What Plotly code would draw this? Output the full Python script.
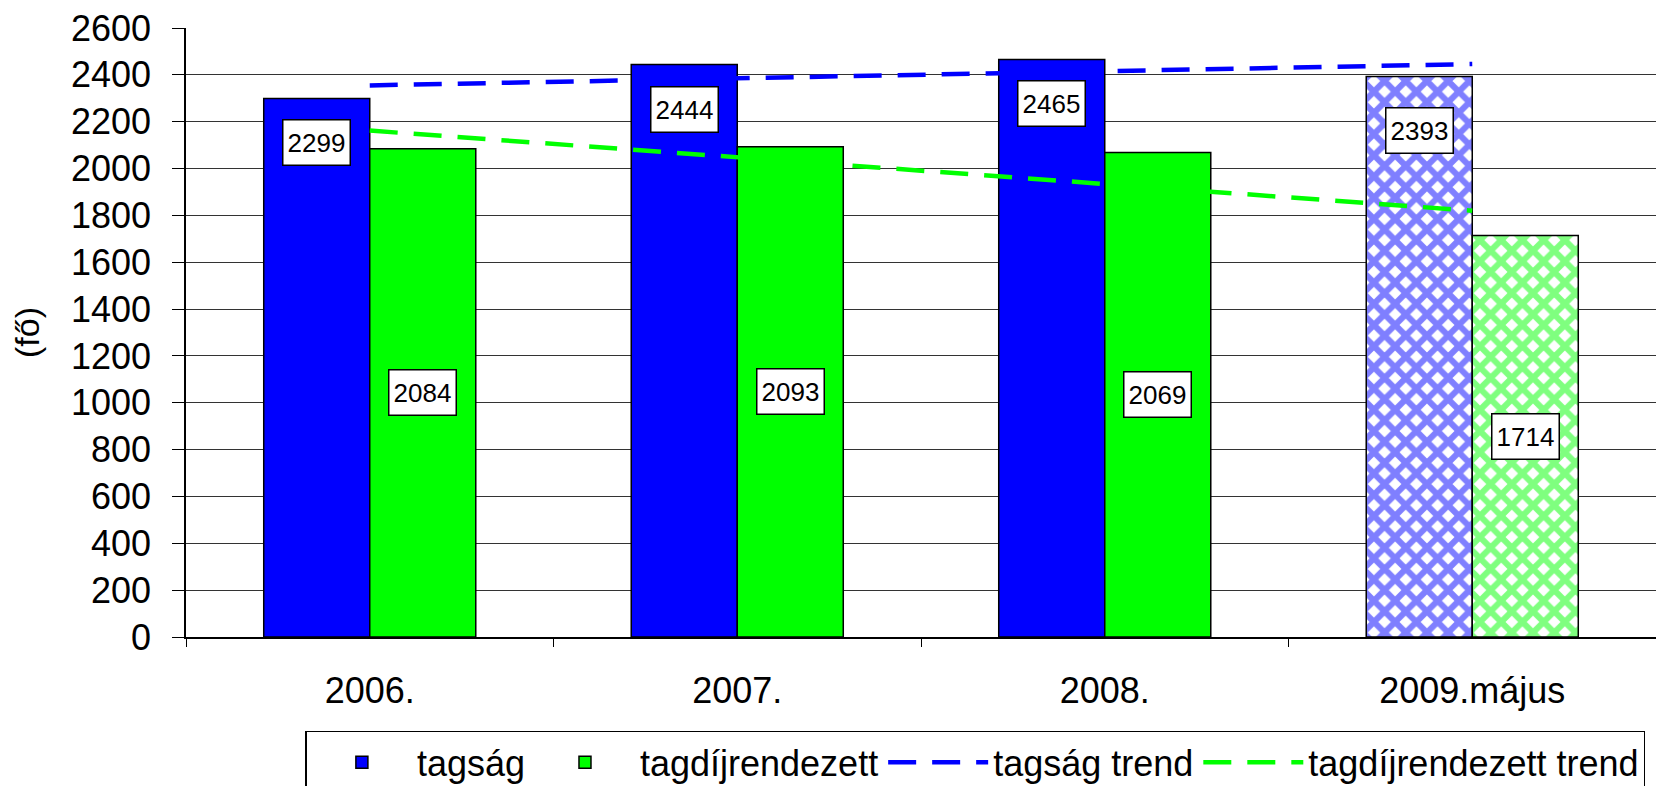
import plotly.graph_objects as go

categories = ["2006.", "2007.", "2008.", "2009.május"]
tagsag = [2299, 2444, 2465, 2393]
tagdij = [2084, 2093, 2069, 1714]
tagsag_trend = [2355, 2385, 2415, 2446]
tagdij_trend = [2162, 2048, 1935, 1820]
patterns = ["", "", "", "x"]
blue_label_shift = [-44, -45, -44, -54]

FONT = "Liberation Sans, Arial, sans-serif"
BLUE = "#0000FF"
GREEN = "#00FF00"

fig = go.Figure()
fig.add_trace(go.Bar(
    x=categories, y=tagsag, name="tagság",
    marker=dict(color=BLUE, line=dict(color="black", width=1.5),
                pattern=dict(shape=patterns, fgcolor=BLUE, bgcolor="white",
                             size=15, solidity=0.65)),
))
fig.add_trace(go.Bar(
    x=categories, y=tagdij, name="tagdíjrendezett",
    marker=dict(color=GREEN, line=dict(color="black", width=1.5),
                pattern=dict(shape=patterns, fgcolor=GREEN, bgcolor="white",
                             size=15, solidity=0.65)),
))
fig.add_trace(go.Scatter(
    x=categories, y=tagsag_trend, name="tagság trend", mode="lines",
    line=dict(color=BLUE, width=4.5, dash="28px,16px"),
))
fig.add_trace(go.Scatter(
    x=categories, y=tagdij_trend, name="tagdíjrendezett trend", mode="lines",
    line=dict(color=GREEN, width=4.5, dash="28px,16px"),
))

annots = []
for i, (v, s) in enumerate(zip(tagsag, blue_label_shift)):
    annots.append(dict(x=i, y=v, xref="x", yref="y", text=str(v), showarrow=False,
                       xshift=-53, yshift=s, yanchor="middle",
                       font=dict(family=FONT, size=26, color="black"),
                       bgcolor="white", bordercolor="black", borderwidth=1.5,
                       width=62, height=40, borderpad=2))
for i, v in enumerate(tagdij):
    annots.append(dict(x=i, y=v / 2, xref="x", yref="y", text=str(v), showarrow=False,
                       xshift=53, yanchor="middle",
                       font=dict(family=FONT, size=26, color="black"),
                       bgcolor="white", bordercolor="black", borderwidth=1.5,
                       width=62, height=40, borderpad=2))

fig.update_layout(
    width=1648, height=778,
    margin=dict(l=178, r=0, t=17, b=149),
    paper_bgcolor="white", plot_bgcolor="white",
    font=dict(family=FONT, size=36, color="black"),
    barmode="group", bargap=0.423, bargroupgap=0,
    annotations=annots,
    showlegend=True,
    legend=dict(orientation="h", x=0.537, xanchor="center",
                yref="container", y=0.071, yanchor="top",
                bordercolor="black", borderwidth=1.5, bgcolor="white",
                font=dict(family=FONT, size=36, color="black"),
                itemwidth=100, traceorder="normal"),
    xaxis=dict(type="category", range=[-0.5, 3.5], showline=True, linecolor="black", linewidth=1.5,
               ticks="outside", tickson="boundaries", ticklen=8, tickcolor="black",
               tickfont=dict(family=FONT, size=36), showgrid=False, tickangle=0,
               ticklabelstandoff=21),
    yaxis=dict(range=[0, 2600], dtick=200, tick0=0,
               showline=True, linecolor="black", linewidth=1.5,
               ticks="outside", ticklen=12, tickcolor="black",
               showgrid=True, gridcolor="#333333", gridwidth=1.2,
               tickfont=dict(family=FONT, size=36), ticklabelstandoff=14,
               ticklabeloverflow="allow",
               title=dict(text="(fő)", font=dict(family=FONT, size=34), standoff=23),
               zeroline=False),
)

fig.write_html("out.html")
